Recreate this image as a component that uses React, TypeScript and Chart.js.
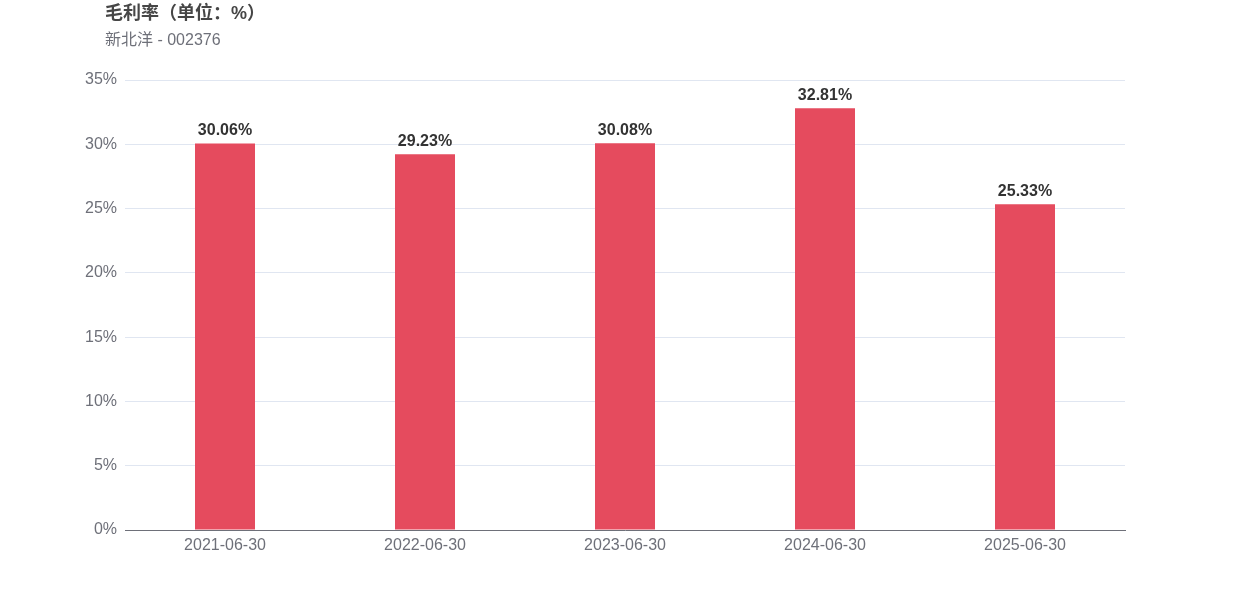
import React, { useEffect, useRef } from "react";
import { Chart, registerables } from "chart.js";

Chart.register(...registerables);

const categories = ["2021-06-30", "2022-06-30", "2023-06-30", "2024-06-30", "2025-06-30"];
const grossMargin = [30.06, 29.23, 30.08, 32.81, 25.33];
const yTicks = [0, 5, 10, 15, 20, 25, 30, 35];
const titleText = "毛利率（单位：%）";
const subtitleText = "新北洋 - 002376";

const FONT = '"Liberation Sans", Arial, "Noto Sans CJK SC", sans-serif';

const titlePlugin = {
  id: "titleText",
  afterDraw(chart: any) {
    const ctx = chart.ctx;
    ctx.save();
    ctx.textAlign = "left";
    ctx.textBaseline = "middle";
    ctx.fillStyle = "#464646";
    ctx.font = `bold 18px ${FONT}`;
    ctx.fillText(titleText, 105, 14);
    ctx.fillStyle = "#6E7079";
    ctx.font = `16px ${FONT}`;
    ctx.fillText(subtitleText, 105, 41);
    ctx.restore();
  },
};

const labelPlugin = {
  id: "barLabels",
  afterDatasetsDraw(chart: any) {
    const ctx = chart.ctx;
    const meta = chart.getDatasetMeta(0);
    ctx.save();
    ctx.textAlign = "center";
    ctx.textBaseline = "bottom";
    ctx.fillStyle = "#333333";
    ctx.font = `bold 16px ${FONT}`;
    meta.data.forEach((bar: any, i: number) => {
      ctx.fillText(grossMargin[i].toFixed(2) + "%", bar.x, bar.y - 5);
    });
    ctx.restore();
  },
};

export default function App() {
  const ref = useRef<HTMLCanvasElement>(null);
  useEffect(() => {
    if (!ref.current) return;
    const chart = new Chart(ref.current, {
      type: "bar",
      data: {
        labels: categories,
        datasets: [
          {
            data: grossMargin,
            backgroundColor: "#E54B5E",
            categoryPercentage: 1,
            barPercentage: 0.3,
          },
        ],
      },
      options: {
        animation: false,
        responsive: false,
        layout: { padding: { top: 80, right: 125, bottom: 30, left: 0 } },
        plugins: { legend: { display: false }, tooltip: { enabled: false }, title: { display: false } },
        scales: {
          x: {
            z: 1,
            grid: { display: false, drawTicks: false },
            border: { display: true, color: "#6E7079", width: 1 },
            ticks: { color: "#6E7079", font: { family: FONT, size: 16 }, padding: 6, maxRotation: 0 },
            afterFit(scale: any) {
              scale.height = 40;
            },
          },
          y: {
            min: 0,
            max: 35,
            afterBuildTicks(scale: any) {
              scale.ticks = yTicks.map((v) => ({ value: v }));
            },
            grid: { color: "#E0E6F1", drawTicks: false, lineWidth: 1 },
            border: { display: false },
            ticks: {
              color: "#6E7079",
              font: { family: FONT, size: 16 },
              padding: 8,
              callback: (v: any) => v + "%",
            },
            afterFit(scale: any) {
              scale.width = 125;
            },
          },
        },
      },
      plugins: [titlePlugin, labelPlugin],
    });
    return () => chart.destroy();
  }, []);
  return (
    <div style={{ position: "absolute", left: 0, top: 0, width: 1250, height: 600, background: "#fff" }}>
      <canvas ref={ref} width={1250} height={600} style={{ display: "block" }} />
    </div>
  );
}
